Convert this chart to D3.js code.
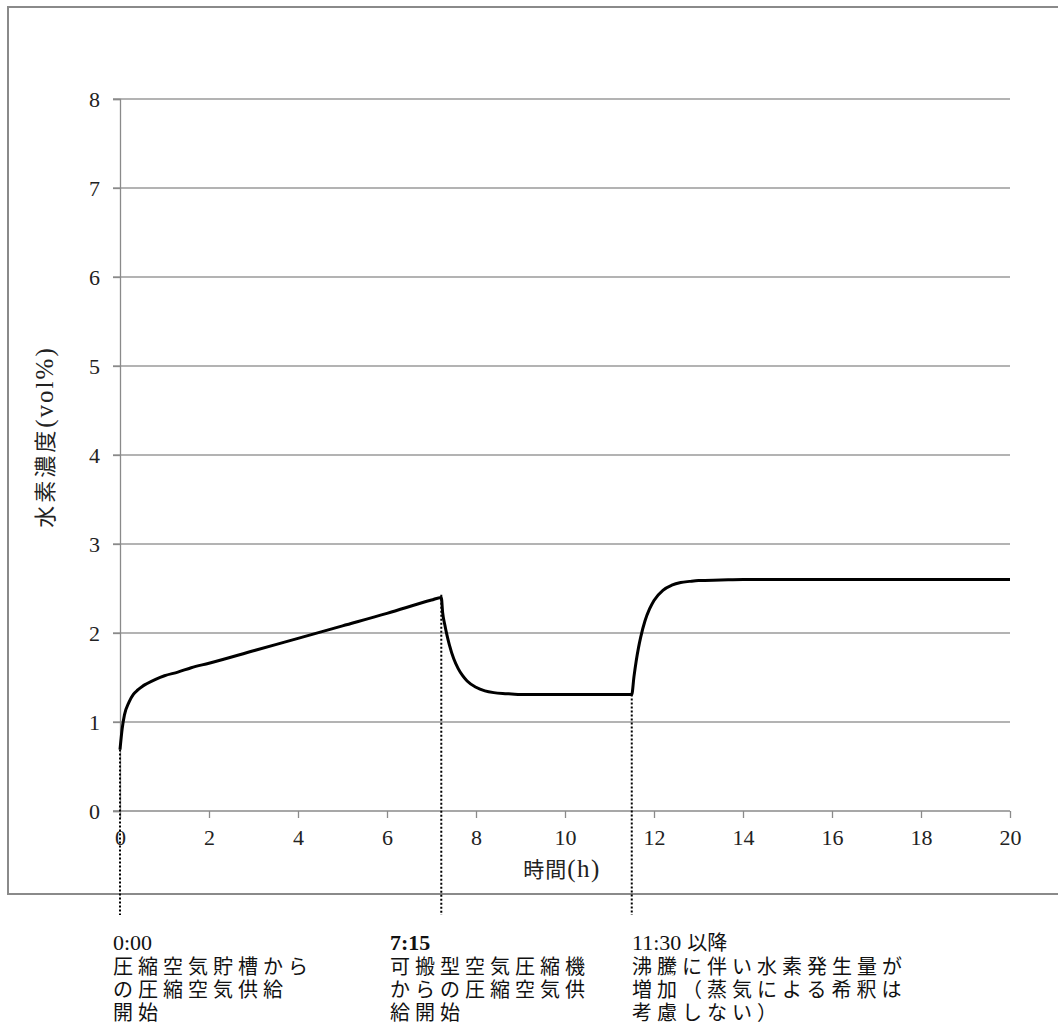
<!DOCTYPE html>
<html>
<head>
<meta charset="utf-8">
<script src="https://cdn.jsdelivr.net/npm/d3@7"></script>
<style>
  html, body { margin: 0; padding: 0; background: #fff; }
  svg { display: block; }
</style>
</head>
<body>
<svg id="chart" width="1058" height="1035"></svg>
<script>
// ---------------- data ----------------
const times = [0, 0.05, 0.1, 0.2, 0.3, 0.4, 0.5, 0.6, 0.8, 1.0, 1.3, 1.6, 2, 3, 4, 5, 6, 7, 7.22,
  7.25, 7.3, 7.35, 7.4, 7.5, 7.6, 7.7, 7.8, 8.0, 8.2, 8.4, 8.6, 8.8, 9.0, 10, 11, 11.5,
  11.55, 11.6, 11.65, 11.7, 11.8, 11.9, 12.0, 12.2, 12.4, 12.6, 12.8, 13.0, 13.5, 14, 16, 18, 20];
const h2 = [0.69, 0.93, 1.08, 1.22, 1.31, 1.36, 1.40, 1.43, 1.48, 1.52, 1.56, 1.61, 1.66, 1.80, 1.94, 2.08, 2.22, 2.37, 2.40,
  2.23, 2.09, 1.97, 1.87, 1.71, 1.60, 1.52, 1.46, 1.39, 1.35, 1.33, 1.32, 1.315, 1.31, 1.31, 1.31, 1.31,
  1.51, 1.685, 1.83, 1.95, 2.14, 2.27, 2.366, 2.48, 2.537, 2.567, 2.58, 2.59, 2.595, 2.6, 2.6, 2.6, 2.6];

const xTicks = [0, 2, 4, 6, 8, 10, 12, 14, 16, 18, 20];
const yTicks = [0, 1, 2, 3, 4, 5, 6, 7, 8];

const xTitleCJK = "時間";
const xTitleLatin = "(h)";
const yTitleCJK = "水素濃度";
const yTitleLatin = "(vol%)";

const markerTimes = [0, 7.22, 11.5];
const markerTops = [0.69, 2.43, 1.31];
const noteHeads = ["0:00", "7:15", "11:30 以降"];
const noteLines = [
  ["圧縮空気貯槽から", "の圧縮空気供給", "開始"],
  ["可搬型空気圧縮機", "からの圧縮空気供", "給開始"],
  ["沸騰に伴い水素発生量が", "増加（蒸気による希釈は", "考慮しない）"]
];

// ---------------- layout ----------------
const svg = d3.select("#chart");
const padL = 120, padR = 1010, padT = 99, padB = 811;
const serif = "'Liberation Serif', 'DejaVu Serif', serif";
const cjk = "'Noto Sans CJK JP', 'Noto Sans', sans-serif";

const x = d3.scaleLinear().domain([0, 20]).range([padL, padR]);
const y = d3.scaleLinear().domain([0, 8]).range([padB, padT]);

// chart frame
svg.append("rect")
  .attr("x", 8).attr("y", 7).attr("width", 1070).attr("height", 887)
  .attr("fill", "none").attr("stroke", "#8a8a8a").attr("stroke-width", 2);

// gridlines (y)
svg.append("g").selectAll("line").data(yTicks.filter(d => d > 0)).join("line")
  .attr("x1", padL - 7).attr("x2", padR)
  .attr("y1", d => y(d)).attr("y2", d => y(d))
  .attr("stroke", "#9a9a9a").attr("stroke-width", 1.3);

// y axis
const yAxis = svg.append("g").attr("transform", `translate(${padL},0)`)
  .call(d3.axisLeft(y).tickValues(yTicks).tickSize(7).tickPadding(13).tickFormat(d3.format("d")));
yAxis.select(".domain").attr("stroke", "#8a8a8a").attr("stroke-width", 1.3);
yAxis.selectAll(".tick line").attr("stroke", "#8a8a8a").attr("stroke-width", 1.3);
yAxis.selectAll(".tick text").attr("font-family", serif).attr("font-size", 22).attr("fill", "#222");

// x axis
const xAxis = svg.append("g").attr("transform", `translate(0,${padB})`)
  .call(d3.axisBottom(x).tickValues(xTicks).tickSize(7).tickPadding(11).tickFormat(d3.format("d")));
xAxis.select(".domain").attr("stroke", "#8a8a8a").attr("stroke-width", 1.3)
  .attr("d", `M${padL - 7},0H${padR}`);
xAxis.selectAll(".tick line").attr("stroke", "#8a8a8a").attr("stroke-width", 1.3);
xAxis.selectAll(".tick text").attr("font-family", serif).attr("font-size", 22).attr("fill", "#222");

// axis titles
const xt = svg.append("text").attr("x", 562).attr("y", 877).attr("text-anchor", "middle").attr("fill", "#222");
xt.append("tspan").attr("font-family", cjk).attr("font-size", 21).attr("letter-spacing", 1).text(xTitleCJK);
xt.append("tspan").attr("font-family", serif).attr("font-size", 25).attr("letter-spacing", 1.5).text(xTitleLatin);

const yt = svg.append("text").attr("transform", "translate(53,437) rotate(-90)")
  .attr("text-anchor", "middle").attr("fill", "#222");
yt.append("tspan").attr("font-family", cjk).attr("font-size", 22).attr("letter-spacing", 3).text(yTitleCJK);
yt.append("tspan").attr("font-family", serif).attr("font-size", 25).attr("letter-spacing", 2).text(yTitleLatin);

// dotted markers
svg.append("g").selectAll("line").data(markerTimes).join("line")
  .attr("x1", d => x(d)).attr("x2", d => x(d))
  .attr("y1", (d, i) => y(markerTops[i])).attr("y2", 915)
  .attr("stroke", "#000").attr("stroke-width", 2).attr("stroke-dasharray", "2,2");

// curve
const pts = times.map((t, i) => [t, h2[i]]);
svg.append("path").datum(pts)
  .attr("fill", "none").attr("stroke", "#000").attr("stroke-width", 3)
  .attr("stroke-linejoin", "round")
  .attr("d", d3.line().x(d => x(d[0])).y(d => y(d[1])).curve(d3.curveMonotoneX));

// notes: one text block per annotation
const noteX = [113, 390, 632];
const firstBaseline = 950, firstGap = 24, lineGap = 23;
noteHeads.forEach((head, i) => {
  const t = svg.append("text").attr("x", noteX[i]).attr("y", firstBaseline).attr("fill", "#111");
  const parts = head.split(" ");
  t.append("tspan").attr("font-family", serif).attr("font-size", 22)
    .attr("font-weight", i === 1 ? "bold" : "normal").text(parts[0]);
  if (parts[1]) t.append("tspan").attr("font-family", cjk).attr("font-size", 20).attr("dx", 6).text(parts[1]);
  noteLines[i].forEach((ln, j) => {
    t.append("tspan").attr("x", noteX[i])
      .attr("y", firstBaseline + firstGap + j * lineGap)
      .attr("font-family", cjk).attr("font-size", 20).attr("letter-spacing", 5)
      .text(ln);
  });
});
</script>
</body>
</html>
